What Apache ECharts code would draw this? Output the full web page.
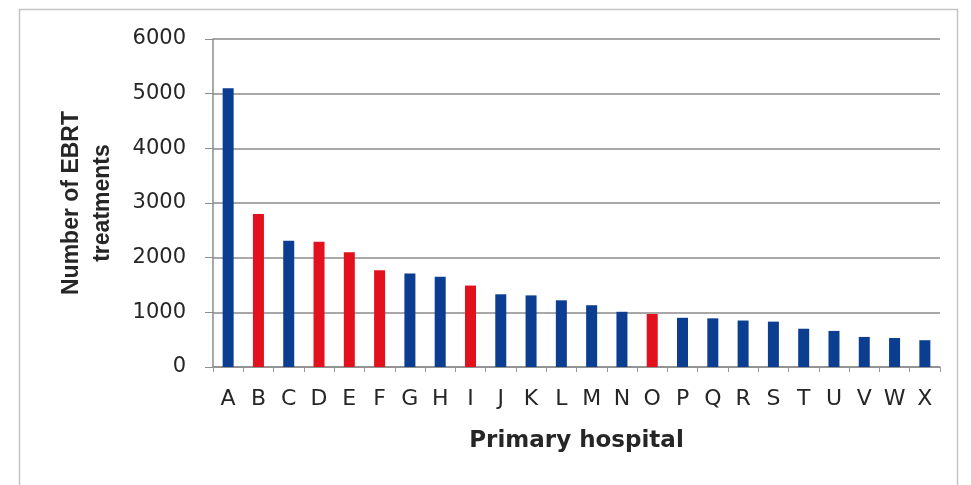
<!DOCTYPE html>
<html>
<head>
<meta charset="utf-8">
<script src="https://cdn.jsdelivr.net/npm/echarts@6/dist/echarts.min.js"></script>
<style>
html,body{margin:0;padding:0;background:#fff;}
#chart{width:971px;height:485px;}
</style>
</head>
<body>
<div id="chart"></div>
<script>
const categories = ['A','B','C','D','E','F','G','H','I','J','K','L','M','N','O','P','Q','R','S','T','U','V','W','X'];
const treatments = [5100,2800,2310,2290,2100,1770,1710,1650,1490,1330,1310,1220,1130,1010,970,900,890,850,830,700,660,550,530,490];
const redHospitals = ['B','D','E','F','I','O'];
const yTicks = [0,1000,2000,3000,4000,5000,6000];

const BLUE = '#0b3d91', RED = '#e3111d';
const chart = echarts.init(document.getElementById('chart'));
chart.setOption({
  animation: false,
  graphic: [{
    type: 'rect', shape: {x: 19.5, y: 9.5, width: 938, height: 500},
    style: {fill: 'none', stroke: '#c4c4c4', lineWidth: 1.5}, z: -1
  }],
  grid: {left: 213, right: 31, top: 39, bottom: 118},
  xAxis: {
    type: 'category', data: categories,
    name: 'Primary hospital', nameLocation: 'middle', nameGap: 63,
    nameTextStyle: {fontFamily: 'DejaVu Sans', fontWeight: 'bold', fontSize: 23, color: '#262626'},
    axisLine: {lineStyle: {color: '#8c8c8c', width: 1.5}},
    axisTick: {show: true, length: 5, lineStyle: {color: '#9a9a9a'}},
    axisLabel: {margin: 21, fontFamily: 'DejaVu Sans', fontSize: 22, color: '#262626', interval: 0}
  },
  yAxis: {
    type: 'value', min: yTicks[0], max: yTicks[yTicks.length-1], interval: 1000,
    name: 'Number of EBRT\ntreatments', nameLocation: 'middle', nameGap: 95, nameRotate: 90,
    nameTextStyle: {fontFamily: 'Liberation Sans', fontWeight: 'bold', fontSize: 23, color: '#262626', lineHeight: 31, align: 'center'},
    axisLine: {show: true, lineStyle: {color: '#8c8c8c', width: 1.5}},
    axisTick: {show: true, length: 8, lineStyle: {color: '#8c8c8c'}},
    axisLabel: {margin: 27, fontFamily: 'DejaVu Sans', fontSize: 21, color: '#262626', formatter: v => String(v)},
    splitLine: {lineStyle: {color: '#a8a8a8', width: 2}}
  },
  series: [{
    type: 'bar', barWidth: 11,
    data: treatments.map((v, i) => ({
      value: v,
      itemStyle: {color: redHospitals.includes(categories[i]) ? RED : BLUE}
    }))
  }]
});
</script>
</body>
</html>
